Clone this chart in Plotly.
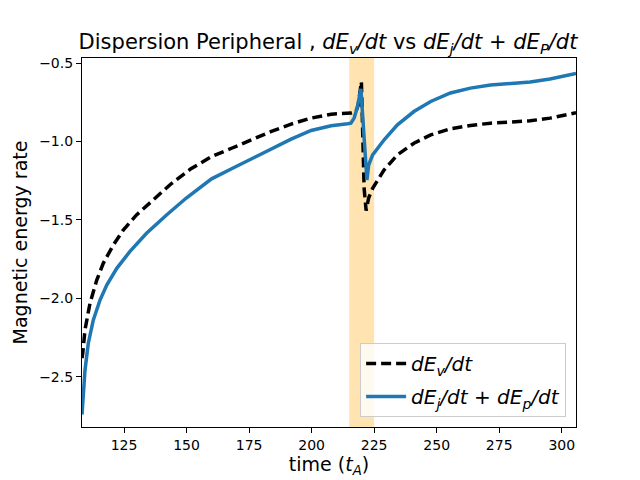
import plotly.graph_objects as go

# dE_v/dt (dashed black)
time_v = [108.2, 108.5, 109.4, 111.4, 114.1, 116.7, 120.7, 124.7, 130.0, 136.6,
          143.3, 151.6, 160.0, 168.0, 175.9, 183.9, 191.8, 199.8, 207.8, 215.7,
          217.7, 218.6, 219.9, 221.0, 221.8, 222.8, 224.4, 229.0, 234.3, 240.9,
          247.6, 255.5, 263.5, 271.5, 279.4, 287.4, 295.3, 305.7]
rate_v = [-2.38, -2.35, -2.20, -2.03, -1.883, -1.776, -1.66, -1.564, -1.468, -1.372,
          -1.277, -1.175, -1.096, -1.043, -0.99, -0.936, -0.889, -0.851, -0.826, -0.819,
          -0.809, -0.77, -0.62, -1.30, -1.44, -1.36, -1.298, -1.181, -1.085, -1.011,
          -0.958, -0.919, -0.898, -0.883, -0.877, -0.868, -0.851, -0.817]

# dE_j/dt + dE_p/dt (blue)
time_jp = [108.2, 109.4, 110.7, 112.7, 115.4, 118.1, 122.1, 127.3, 134.0, 142.0,
           149.9, 155.2, 160.0, 168.0, 175.9, 183.9, 191.8, 199.8, 207.8, 214.4,
           215.7, 217.0, 218.3, 219.7, 221.6, 222.1, 222.8, 224.4, 229.0, 234.3,
           240.9, 247.6, 255.5, 263.5, 271.5, 279.4, 287.4, 295.3, 305.7]
rate_jp = [-2.74, -2.457, -2.287, -2.138, -2.01, -1.915, -1.808, -1.702, -1.585, -1.468,
           -1.36, -1.293, -1.238, -1.174, -1.113, -1.049, -0.985, -0.93, -0.90, -0.887,
           -0.883, -0.851, -0.78, -0.665, -1.20, -1.245, -1.15, -1.085, -0.989, -0.894,
           -0.809, -0.745, -0.691, -0.66, -0.64, -0.628, -0.621, -0.602, -0.566]

band = [215, 225]
x_ticks = [125, 150, 175, 200, 225, 250, 275, 300]
y_ticks = [-0.5, -1.0, -1.5, -2.0, -2.5]
y_tick_text = ["\u22120.5", "\u22121.0", "\u22121.5", "\u22122.0", "\u22122.5"]

font = "DejaVu Sans"

fig = go.Figure()
fig.add_vrect(x0=band[0], x1=band[1], fillcolor="orange", opacity=0.3,
              line_width=0, layer="below")
fig.add_trace(go.Scatter(x=time_v, y=rate_v, mode="lines", legendgroup="v",
                         name="<i>dE<sub>v</sub>/dt</i>",
                         line=dict(color="black", width=3.5, dash="10px,5px")))
fig.add_trace(go.Scatter(x=time_jp, y=rate_jp, mode="lines", legendgroup="jp",
                         name="<i>dE<sub>j</sub>/dt</i> + <i>dE<sub>p</sub>/dt</i>",
                         line=dict(color="#1f77b4", width=3.5)))

axis_style = dict(showline=True, linecolor="black", linewidth=1.1, mirror=True,
                  ticks="outside", ticklen=5, tickwidth=1.1, tickcolor="black",
                  showgrid=False, zeroline=False,
                  tickfont=dict(family=font, size=14, color="black"))

fig.update_xaxes(range=[108.2, 305.7], tickvals=x_ticks,
                 title=dict(text="time (<i>t<sub>A</sub></i>)",
                            font=dict(family=font, size=19, color="black"),
                            standoff=4),
                 **axis_style)
fig.update_yaxes(range=[-2.819, -0.468], tickvals=y_ticks, ticktext=y_tick_text,
                 title=dict(text="Magnetic energy rate",
                            font=dict(family=font, size=19, color="black"),
                            standoff=6),
                 **axis_style)

# the page puts the figure 8px in from the top-left corner
fig.update_layout(
    width=640, height=480,
    margin=dict(l=72, r=72, t=50, b=61),
    paper_bgcolor="white", plot_bgcolor="white",
    title=dict(text="Dispersion Peripheral , <i>dE<sub>v</sub>/dt</i> vs "
                    "<i>dE<sub>j</sub>/dt</i> + <i>dE<sub>P</sub>/dt</i>",
               x=0.5, xanchor="center", y=0.929, yanchor="middle",
               font=dict(family=font, size=21, color="black")),
    legend=dict(x=0.98, y=0.027, xanchor="right", yanchor="bottom",
                bgcolor="rgba(255,255,255,0.8)", bordercolor="#cccccc",
                borderwidth=1, itemwidth=40, tracegroupgap=4,
                font=dict(family=font, size=20, color="black")),
    showlegend=True,
)

fig.write_html("out.html")
